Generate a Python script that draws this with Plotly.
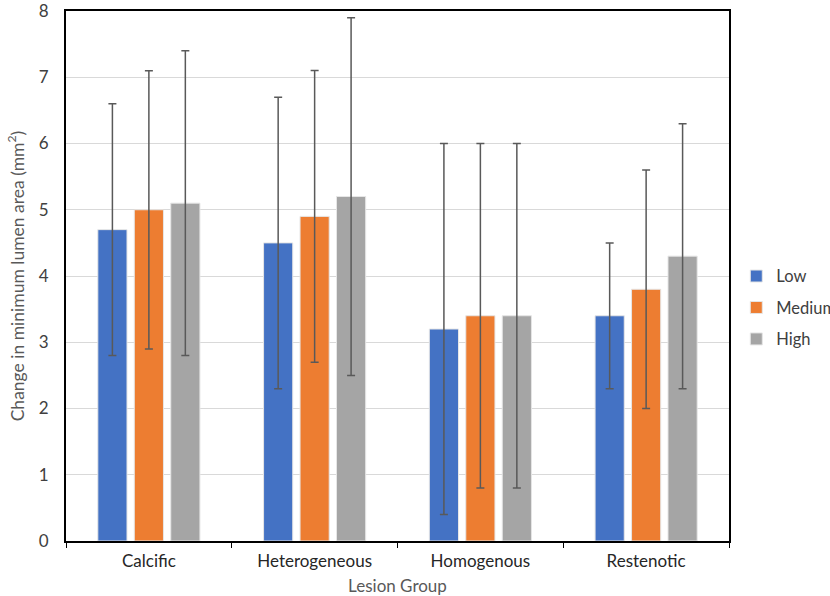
import plotly.graph_objects as go

categories = ["Calcific", "Heterogeneous", "Homogenous", "Restenotic"]
series_names = ["Low", "Medium", "High"]
low_vals = [4.7, 4.5, 3.2, 3.4]
low_err = [1.9, 2.2, 2.8, 1.1]
medium_vals = [5.0, 4.9, 3.4, 3.8]
medium_err = [2.1, 2.2, 2.6, 1.8]
high_vals = [5.1, 5.2, 3.4, 4.3]
high_err = [2.3, 2.7, 2.6, 2.0]
colors = ["#4472C4", "#ED7D31", "#A5A5A5"]
y_ticks = [0, 1, 2, 3, 4, 5, 6, 7, 8]

fig = go.Figure()
for name, vals, errs, col in zip(series_names, [low_vals, medium_vals, high_vals],
                                  [low_err, medium_err, high_err], colors):
    fig.add_trace(go.Bar(
        x=categories, y=vals, name=name, legendgroup=name,
        marker=dict(color=col, line=dict(color="#e6e6e6", width=1)),
        error_y=dict(type="data", array=errs, visible=True, color="#595959",
                     thickness=1.5, width=4),
    ))

fig.update_layout(
    width=830, height=596,
    margin=dict(l=66, r=101, t=11, b=55, autoexpand=False),
    plot_bgcolor="white", paper_bgcolor="white",
    barmode="group", bargap=0.34, bargroupgap=0.2,
    font=dict(family="Lato, Open Sans, sans-serif", size=17, color="#404040"),
    showlegend=True,
    legend=dict(x=1.011, xanchor="left", y=0.44, yanchor="middle",
                font=dict(size=16.5, color="#404040"), tracegroupgap=7,
                traceorder="grouped", itemwidth=30),
    xaxis=dict(
        title=dict(text="Lesion Group", font=dict(size=17, color="#595959"), standoff=10),
        showline=True, linecolor="black", linewidth=2, mirror=True,
        ticks="outside", tickson="boundaries", ticklen=5, tickcolor="black",
        tickfont=dict(size=17, color="#262626"), ticklabelstandoff=4,
        showgrid=False, automargin=False,
    ),
    yaxis=dict(
        title=dict(text="Change in minimum lumen area (mm<sup>2</sup>)",
                   font=dict(size=17.5, color="#595959"), standoff=10),
        range=[0, 8], tickvals=y_ticks, showline=True, linecolor="black",
        linewidth=2, mirror=True, showgrid=True, gridcolor="#d9d9d9",
        gridwidth=1, ticks="", tickfont=dict(size=17, color="#404040"),
        ticklabelstandoff=12, ticklabeloverflow="allow",
        zeroline=False, automargin=False,
    ),
)

fig.write_html("out.html", config={"displayModeBar": False},
               post_script="document.body.style.margin='0';")
